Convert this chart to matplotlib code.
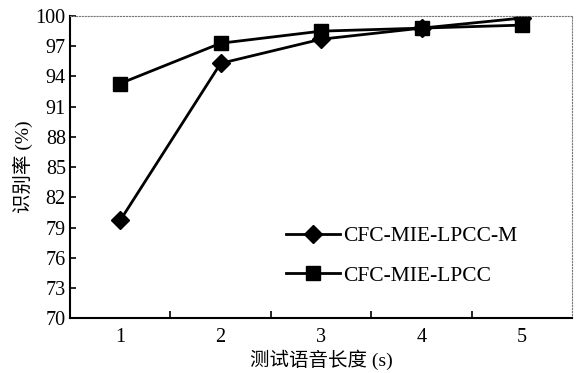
import numpy as np
import matplotlib.pyplot as plt

plt.rcParams['font.family'] = ['Liberation Serif', 'Noto Sans CJK SC']

lengths = [1, 2, 3, 4, 5]
rate_m = [79.7, 95.3, 97.7, 98.8, 99.8]
rate_base = [93.3, 97.3, 98.5, 98.8, 99.1]
yticks = [70, 73, 76, 79, 82, 85, 88, 91, 94, 97, 100]

fig = plt.figure(figsize=(5.78, 3.73), dpi=100)
ax = fig.add_axes([0.121, 0.147, 0.869, 0.81])

ax.plot(lengths, rate_m, color='black', lw=2.0, marker='D', ms=9,
        label='CFC-MIE-LPCC-M')
ax.plot(lengths, rate_base, color='black', lw=2.0, marker='s', ms=10,
        label='CFC-MIE-LPCC')

ax.set_xlim(0.5, 5.5)
ax.set_ylim(70, 100)
ax.set_yticks(yticks)
ax.set_xticks(lengths)
ax.set_xticks([1.5, 2.5, 3.5, 4.5], minor=True)
ax.tick_params(axis='x', which='major', length=0, labelsize=14.5, pad=7)
ax.tick_params(axis='x', which='minor', direction='in', length=5, width=1.2)
ax.tick_params(axis='y', direction='in', length=4, width=1.2, labelsize=14.5, pad=3)

for s in ['left', 'bottom']:
    ax.spines[s].set_linewidth(1.5)
for s in ['top', 'right']:
    ax.spines[s].set_linestyle(':')
    ax.spines[s].set_color('#777777')
    ax.spines[s].set_linewidth(0.8)

ax.set_xlabel('测试语音长度 (s)', fontsize=14, labelpad=2)
ax.set_ylabel('识别率 (%)', fontsize=14, labelpad=2)

ax.legend(loc='upper left', bbox_to_anchor=(0.43, 0.305), frameon=False,
          fontsize=15.5, handlelength=2.5, handletextpad=0.15,
          labelspacing=0.9, borderpad=0, borderaxespad=0)

fig.savefig('out.png', dpi=100)
